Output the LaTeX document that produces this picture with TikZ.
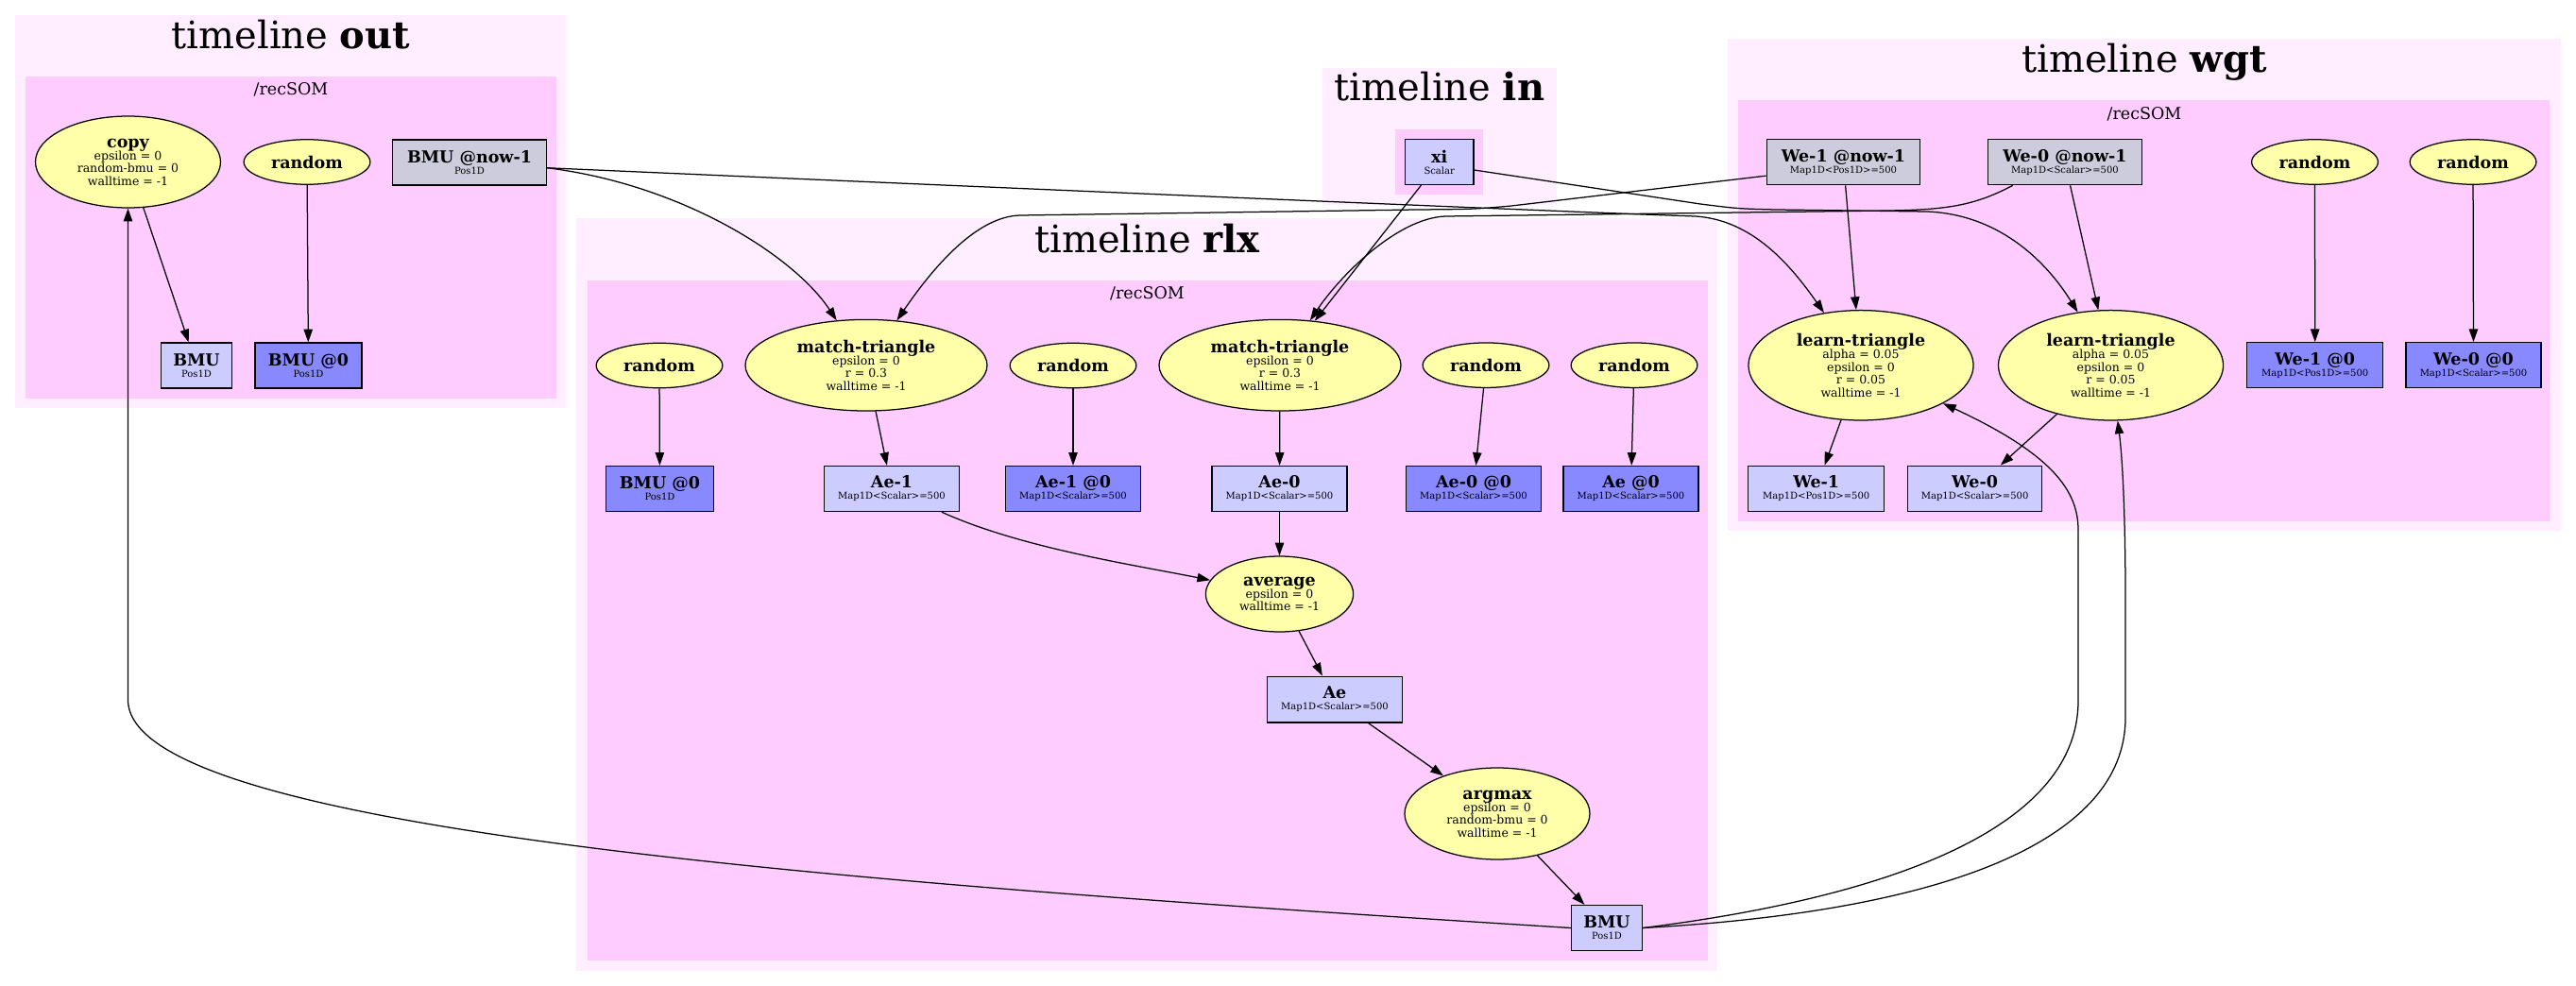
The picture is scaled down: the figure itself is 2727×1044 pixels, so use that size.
\documentclass[tikz,border=0pt]{standalone}
\usepackage{fontspec}
\setmainfont{DejaVu Serif}
\usetikzlibrary{shapes.geometric,arrows.meta}
\definecolor{outerc}{RGB}{255,238,255}
\definecolor{innerc}{RGB}{255,204,255}
\definecolor{ellc}{RGB}{255,255,170}
\definecolor{lboxc}{RGB}{204,204,255}
\definecolor{dboxc}{RGB}{136,136,255}
\definecolor{gboxc}{RGB}{204,204,221}
\newcommand\vname[1]{{\fontsize{14}{16}\selectfont\bfseries #1}}
\newcommand\ellfont{\fontsize{10}{10.7}\selectfont\lineskiplimit=-5pt\relax}
\newcommand\boxfont{\fontsize{8}{9.6}\selectfont\lineskiplimit=-5pt\relax}
\begin{document}
\begin{tikzpicture}[x=0.8pt,y=-0.8pt,
  ell/.style={ellipse,draw,fill=ellc,line width=1pt,inner sep=0pt,align=center,font=\ellfont},
  bx/.style={rectangle,draw,line width=1pt,inner sep=0pt,align=center,minimum height=38.4pt,font=\boxfont},
  lbox/.style={bx,fill=lboxc},
  dbox/.style={bx,fill=dboxc},
  gbox/.style={bx,fill=gboxc},
  rnd/.style={ell,minimum width=107pt,minimum height=38pt},
  ttl/.style={anchor=base,inner sep=0pt,font=\fontsize{32}{38}\selectfont},
  subttl/.style={anchor=base,inner sep=0pt,font=\fontsize{14}{16}\selectfont},
  conn/.style={line width=1pt,-{Triangle[length=11pt,width=7.5pt]}},
]
\useasboundingbox (0,0) rectangle (2727,1044);
% clusters
\fill[outerc] (16,16) rectangle (599,432);
\fill[innerc] (26.5,81) rectangle (589,422);
\fill[outerc] (1400,71.7) rectangle (1648,216.7);
\fill[innerc] (1477,137) rectangle (1570.3,205.7);
\fill[outerc] (610,231) rectangle (1818,1027.5);
\fill[innerc] (621.5,297) rectangle (1808,1017);
\fill[outerc] (1829,41) rectangle (2710.7,562);
\fill[innerc] (1840,106.4) rectangle (2699,551.7);
% titles
\node[ttl] (tout) at (308,52) {timeline \textbf{out}};
\node[subttl] (sout) at (308,101) {/recSOM};
\node[ttl] (tin) at (1524,106.7) {timeline \textbf{in}};
\node[ttl] (trlx) at (1214.5,267.7) {timeline \textbf{rlx}};
\node[subttl] (srlx) at (1214.5,316.7) {/recSOM};
\node[ttl] (twgt) at (2270,76.5) {timeline \textbf{wgt}};
\node[subttl] (swgt) at (2270,127) {/recSOM};
% out
\node[ell,minimum width=156.8pt,minimum height=77.6pt] (copy) at (135.5,171.5) {\vname{copy}\\epsilon = 0\\random-bmu = 0\\walltime = -1};
\node[rnd] (rnd1) at (325,171.5) {\vname{random}};
\node[gbox,minimum width=130pt] (bmuN) at (497,172) {\vname{BMU @now-1}\\Pos1D};
\node[lbox,minimum width=60pt] (bmuO) at (208,387) {\vname{BMU}\\Pos1D};
\node[dbox,minimum width=90.4pt] (bmuO0) at (326.5,387) {\vname{BMU @0}\\Pos1D};
% in
\node[lbox,minimum width=58pt] (xi) at (1523.7,171.5) {\vname{xi}\\Scalar};
% rlx
\node[rnd] (rnd2) at (698,387) {\vname{random}};
\node[ell,minimum width=204.8pt,minimum height=77.3pt] (mt1) at (917,386.7) {\vname{match-triangle}\\epsilon = 0\\r = 0.3\\walltime = -1};
\node[rnd] (rnd3) at (1136,387) {\vname{random}};
\node[ell,minimum width=204.8pt,minimum height=77.3pt] (mt2) at (1355,386.7) {\vname{match-triangle}\\epsilon = 0\\r = 0.3\\walltime = -1};
\node[rnd] (rnd4) at (1573,386.7) {\vname{random}};
\node[rnd] (rnd5) at (1730,386.7) {\vname{random}};
\node[dbox,minimum width=90.8pt] (bmuR0) at (698.5,517.5) {\vname{BMU @0}\\Pos1D};
\node[lbox,minimum width=114.4pt] (ae1) at (944,517.5) {\vname{Ae-1}\\Map1D<Scalar>=500};
\node[dbox,minimum width=114.4pt] (ae10) at (1136,517.5) {\vname{Ae-1 @0}\\Map1D<Scalar>=500};
\node[lbox,minimum width=114.4pt] (ae0) at (1354.5,517.5) {\vname{Ae-0}\\Map1D<Scalar>=500};
\node[dbox,minimum width=114pt] (ae00) at (1560,517.5) {\vname{Ae-0 @0}\\Map1D<Scalar>=500};
\node[dbox,minimum width=114.4pt] (aea0) at (1726.5,517.5) {\vname{Ae @0}\\Map1D<Scalar>=500};
\node[ell,minimum width=125pt,minimum height=64pt] (avg) at (1354.5,629) {\vname{average}\\epsilon = 0\\walltime = -1};
\node[lbox,minimum width=114.4pt,minimum height=39pt] (ae) at (1413,740.6) {\vname{Ae}\\Map1D<Scalar>=500};
\node[ell,minimum width=156.8pt,minimum height=77.6pt] (argmax) at (1585,861.5) {\vname{argmax}\\epsilon = 0\\random-bmu = 0\\walltime = -1};
\node[lbox,minimum width=60pt] (bmuR) at (1701,982.5) {\vname{BMU}\\Pos1D};
% wgt
\node[gbox,minimum width=130pt] (we1n) at (1951.5,171.7) {\vname{We-1 @now-1}\\Map1D<Pos1D>=500};
\node[gbox,minimum width=130pt] (we0n) at (2186,171.7) {\vname{We-0 @now-1}\\Map1D<Scalar>=500};
\node[rnd] (rnd6) at (2450.5,171.5) {\vname{random}};
\node[rnd] (rnd7) at (2618,171.5) {\vname{random}};
\node[ell,minimum width=190.4pt,minimum height=93.1pt] (lt1) at (1970,386.8) {\vname{learn-triangle}\\alpha = 0.05\\epsilon = 0\\r = 0.05\\walltime = -1};
\node[ell,minimum width=190.4pt,minimum height=93.1pt] (lt2) at (2234.5,386.8) {\vname{learn-triangle}\\alpha = 0.05\\epsilon = 0\\r = 0.05\\walltime = -1};
\node[dbox,minimum width=115.2pt] (we10) at (2450.7,386.8) {\vname{We-1 @0}\\Map1D<Pos1D>=500};
\node[dbox,minimum width=114.4pt] (we00) at (2618.5,386.8) {\vname{We-0 @0}\\Map1D<Scalar>=500};
\node[lbox,minimum width=115.2pt] (we1) at (1922.7,517.2) {\vname{We-1}\\Map1D<Pos1D>=500};
\node[lbox,minimum width=113.8pt] (we0) at (2090.6,517.2) {\vname{We-0}\\Map1D<Scalar>=500};
% edges
\draw[conn] (copy) -- (bmuO);
\draw[conn] (rnd1) -- (bmuO0);
\draw[conn] (bmuN.356) .. controls (720,195) and (840,270) .. (mt1);
\draw[conn] (bmuN.356) .. controls (1200,205) and (1700,226) .. (1795,229) .. controls (1855,233) and (1895,280) .. (lt1);
\draw[conn] (xi.232) -- (mt2);
\draw[conn] (xi.347) -- (1800,216) .. controls (1840,221) .. (1880,222) -- (2040,224) .. controls (2115,227) and (2165,275) .. (lt2);
\draw[conn] (we1n.190) -- (1600,218) .. controls (1560,221.5) .. (1500,222) -- (1080,228) .. controls (1035,229) and (990,280) .. (mt1);
\draw[conn] (we0n.204) .. controls (2090,218) and (2060,222) .. (2000,223) -- (1530,229) .. controls (1480,231) and (1420,290) .. (mt2);
\draw[conn] (we1n) -- (lt1);
\draw[conn] (we0n) -- (lt2);
\draw[conn] (lt1) -- (we1);
\draw[conn] (lt2) -- (we0);
\draw[conn] (rnd6) -- (we10);
\draw[conn] (rnd7) -- (we00);
\draw[conn] (rnd2) -- (bmuR0);
\draw[conn] (mt1) -- (ae1);
\draw[conn] (rnd3) -- (ae10);
\draw[conn] (mt2) -- (ae0);
\draw[conn] (rnd4) -- (ae00);
\draw[conn] (rnd5) -- (aea0);
\draw[conn] (ae0) -- (avg);
\draw[conn] (ae1.335) .. controls (1080,580) and (1200,598) .. (avg);
\draw[conn] (avg) -- (ae);
\draw[conn] (ae) -- (argmax);
\draw[conn] (argmax) -- (bmuR);
\draw[conn] (bmuR.west) .. controls (900,935) and (135.5,880) .. (135.5,741) -- (copy.south);
\draw[conn] (bmuR.east) .. controls (1960,955) and (2200,890) .. (2200,742) -- (2200,561) .. controls (2200,520) and (2173,481) .. (lt1);
\draw[conn] (bmuR.east) .. controls (2060,965) and (2250,890) .. (2250,760) -- (2250,630) .. controls (2250,590) and (2249,503) .. (lt2);
\end{tikzpicture}
\end{document}
